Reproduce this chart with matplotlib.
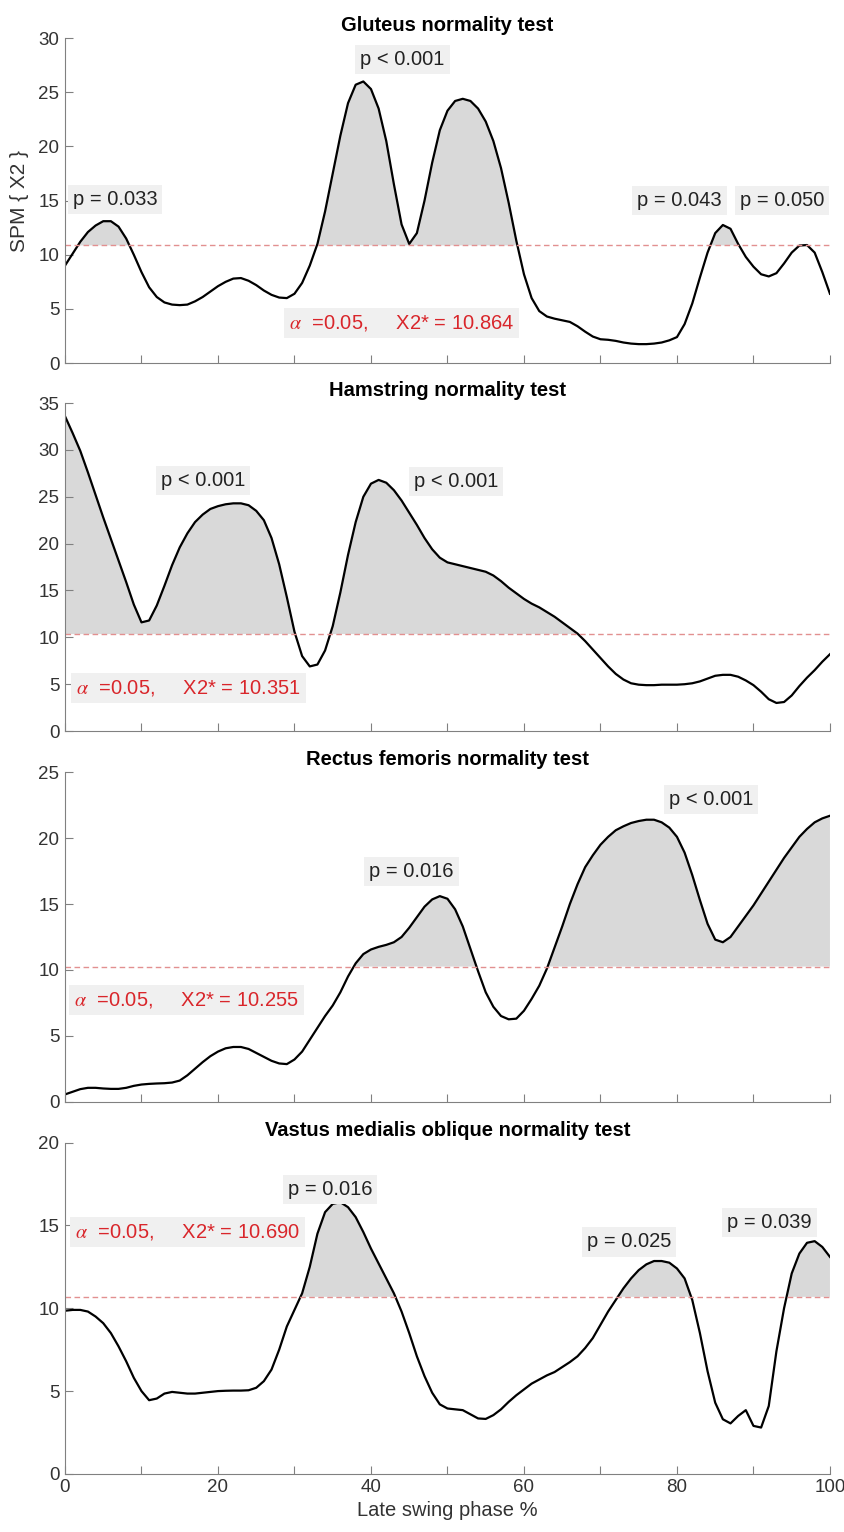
import numpy as np
import matplotlib
matplotlib.use('Agg')
import matplotlib.pyplot as plt

plt.rcParams['font.family'] = ['Liberation Sans', 'DejaVu Sans']
plt.rcParams['mathtext.fontset'] = 'stix'

# Fase de balanceo tardío (%)
phase = np.arange(0, 101)

gluteus = [9.0, 10.1, 11.2, 12.1, 12.7, 13.1, 13.1, 12.6, 11.5, 10.0,
           8.4, 7.0, 6.1, 5.6, 5.4, 5.35, 5.4, 5.7, 6.1, 6.6,
           7.1, 7.5, 7.8, 7.85, 7.6, 7.2, 6.7, 6.3, 6.05, 6.0,
           6.4, 7.4, 9.0, 11.0, 14.0, 17.5, 21.0, 24.0, 25.7, 26.0,
           25.3, 23.5, 20.5, 16.5, 12.8, 11.0, 12.0, 15.0, 18.5, 21.5,
           23.3, 24.2, 24.4, 24.2, 23.5, 22.3, 20.5, 18.0, 14.8, 11.3,
           8.2, 6.0, 4.8, 4.3, 4.1, 3.95, 3.8, 3.4, 2.9, 2.45,
           2.2, 2.15, 2.05, 1.9, 1.8, 1.75, 1.75, 1.8, 1.9, 2.1,
           2.4, 3.6, 5.5, 7.9, 10.2, 12.0, 12.75, 12.4, 11.0, 9.8,
           8.9, 8.2, 8.0, 8.3, 9.2, 10.2, 10.85, 10.9, 10.2, 8.4,
           6.4]

hamstring = [33.6, 31.8, 29.9, 27.6, 25.2, 22.8, 20.5, 18.2, 15.9, 13.5,
             11.6, 11.8, 13.4, 15.5, 17.7, 19.6, 21.1, 22.3, 23.1, 23.7,
             24.0, 24.2, 24.3, 24.3, 24.1, 23.5, 22.5, 20.6, 17.8, 14.3,
             10.6, 8.0, 6.9, 7.1, 8.6, 11.2, 14.8, 18.8, 22.3, 25.0,
             26.4, 26.8, 26.5, 25.7, 24.6, 23.3, 22.0, 20.6, 19.4, 18.5,
             18.0, 17.8, 17.6, 17.4, 17.2, 17.0, 16.6, 16.0, 15.3, 14.7,
             14.1, 13.6, 13.2, 12.7, 12.2, 11.6, 11.0, 10.4, 9.6, 8.7,
             7.8, 6.9, 6.1, 5.5, 5.1, 4.95, 4.9, 4.9, 4.95, 4.95,
             4.95, 5.0, 5.1, 5.3, 5.6, 5.9, 6.0, 6.0, 5.8, 5.4,
             4.9, 4.2, 3.4, 3.0, 3.1, 3.8, 4.8, 5.7, 6.5, 7.4,
             8.2]

rectus = [0.55, 0.75, 0.95, 1.05, 1.05, 1.0, 0.97, 0.97, 1.05, 1.2,
          1.3, 1.35, 1.38, 1.4, 1.45, 1.6, 2.0, 2.5, 3.0, 3.45,
          3.8, 4.05, 4.15, 4.15, 4.0, 3.7, 3.4, 3.1, 2.9, 2.85,
          3.2, 3.8, 4.7, 5.6, 6.5, 7.3, 8.3, 9.5, 10.5, 11.2,
          11.55, 11.75, 11.9, 12.1, 12.5, 13.2, 14.0, 14.8, 15.35, 15.6,
          15.4, 14.6, 13.3, 11.6, 9.9, 8.3, 7.2, 6.5, 6.25, 6.3,
          6.9, 7.8, 8.8, 10.1, 11.7, 13.3, 15.0, 16.5, 17.8, 18.7,
          19.5, 20.1, 20.6, 20.9, 21.15, 21.3, 21.4, 21.4, 21.2, 20.8,
          20.1, 18.9, 17.2, 15.3, 13.5, 12.3, 12.1, 12.5, 13.3, 14.1,
          14.9, 15.8, 16.7, 17.6, 18.5, 19.3, 20.1, 20.7, 21.2, 21.5,
          21.7]

vastus = [9.85, 9.9, 9.9, 9.8, 9.5, 9.1, 8.5, 7.7, 6.8, 5.8,
          5.0, 4.45, 4.55, 4.85, 4.95, 4.9, 4.85, 4.85, 4.9, 4.95,
          5.0, 5.02, 5.03, 5.03, 5.05, 5.2, 5.6, 6.3, 7.5, 8.9,
          9.9, 10.9, 12.5, 14.5, 15.8, 16.3, 16.4, 16.1, 15.5, 14.6,
          13.6, 12.7, 11.8, 10.9, 9.8, 8.5, 7.1, 5.9, 4.9, 4.2,
          3.95, 3.9, 3.85, 3.6, 3.35, 3.32, 3.55, 3.9, 4.35, 4.75,
          5.1, 5.45, 5.7, 5.95, 6.15, 6.45, 6.75, 7.1, 7.6, 8.2,
          9.0, 9.8, 10.5, 11.2, 11.8, 12.3, 12.65, 12.85, 12.85, 12.75,
          12.4, 11.8, 10.5, 8.5, 6.2, 4.3, 3.3, 3.05, 3.5, 3.85,
          2.9, 2.8, 4.1, 7.4, 10.0, 12.1, 13.3, 13.95, 14.05, 13.7,
          13.1]

titles = ['Gluteus normality test', 'Hamstring normality test',
          'Rectus femoris normality test', 'Vastus medialis oblique normality test']
series = [gluteus, hamstring, rectus, vastus]
thresholds = [10.864, 10.351, 10.255, 10.690]
y_max = [30, 35, 25, 20]

# Etiquetas de p: (x izquierda, y centro, texto)
p_labels = [
    [(1, 15.1, 'p = 0.033'), (38.6, 28.0, 'p < 0.001'),
     (74.8, 15.0, 'p = 0.043'), (88.2, 15.0, 'p = 0.050')],
    [(12.5, 26.7, 'p < 0.001'), (45.6, 26.6, 'p < 0.001')],
    [(39.8, 17.5, 'p = 0.016'), (78.9, 22.95, 'p < 0.001')],
    [(29.1, 17.15, 'p = 0.016'), (68.2, 14.0, 'p = 0.025'), (86.6, 15.2, 'p = 0.039')],
]
# Posición del texto de alfa
alpha_pos = [(29.3, 3.7), (1.5, 4.55), (1.2, 7.7), (1.3, 14.6)]

# Posiciones de los ejes en la figura
boxes = [(0.0769, 0.7630, 0.9053, 0.2121),
         (0.0769, 0.5228, 0.9053, 0.2141),
         (0.0769, 0.2809, 0.9053, 0.2150),
         (0.0769, 0.0379, 0.9053, 0.2163)]

fig = plt.figure(figsize=(8.45, 15.32), dpi=100)
red = '#d9262b'
box = dict(boxstyle='square,pad=0.25', facecolor='#f0f0f0', edgecolor='none')

for i in range(4):
    ax = fig.add_axes(boxes[i])
    y = np.array(series[i])
    thr = thresholds[i]
    ax.fill_between(phase, thr, y, where=y > thr, interpolate=True,
                    color='#d9d9d9', linewidth=0)
    ax.plot(phase, y, color='black', linewidth=1.6, solid_joinstyle='round')
    ax.axhline(thr, color='#e29090', linestyle='--', linewidth=1.0, dashes=(4, 2.5))

    for (px, py, txt) in p_labels[i]:
        ax.text(px, py, txt, fontsize=14.5, color='#222222', ha='left', va='center', bbox=box)

    ax_x, ax_y = alpha_pos[i]
    ax.text(ax_x, ax_y, r'$\alpha$  =0.05,     X2* = %.3f' % thr, fontsize=14.5,
            color=red, ha='left', va='center', bbox=box)

    ax.set_xlim(0, 100)
    ax.set_ylim(0, y_max[i])
    ax.set_xticks(np.arange(0, 101, 10))
    if i == 3:
        ax.set_xticklabels([str(v) if v % 20 == 0 else '' for v in range(0, 101, 10)])
        ax.set_xlabel('Late swing phase %', fontsize=14.5, color='#333333', labelpad=3)
    else:
        ax.set_xticklabels([])
    ax.set_yticks(np.arange(0, y_max[i] + 1, 5))
    ax.tick_params(direction='in', length=6, width=0.8, colors='#808080',
                   labelcolor='#333333', labelsize=13.5, pad=4)
    for side in ['top', 'right']:
        ax.spines[side].set_visible(False)
    for side in ['left', 'bottom']:
        ax.spines[side].set_color('#808080')
        ax.spines[side].set_linewidth(0.8)
    ax.set_title(titles[i], fontsize=14.5, fontweight='bold', color='black', pad=5)

    if i == 0:
        ax.set_ylabel('SPM { X2 }', fontsize=15, color='#333333')
        ax.yaxis.set_label_coords(-0.047, 0.5)

fig.savefig('out.png', dpi=100)
